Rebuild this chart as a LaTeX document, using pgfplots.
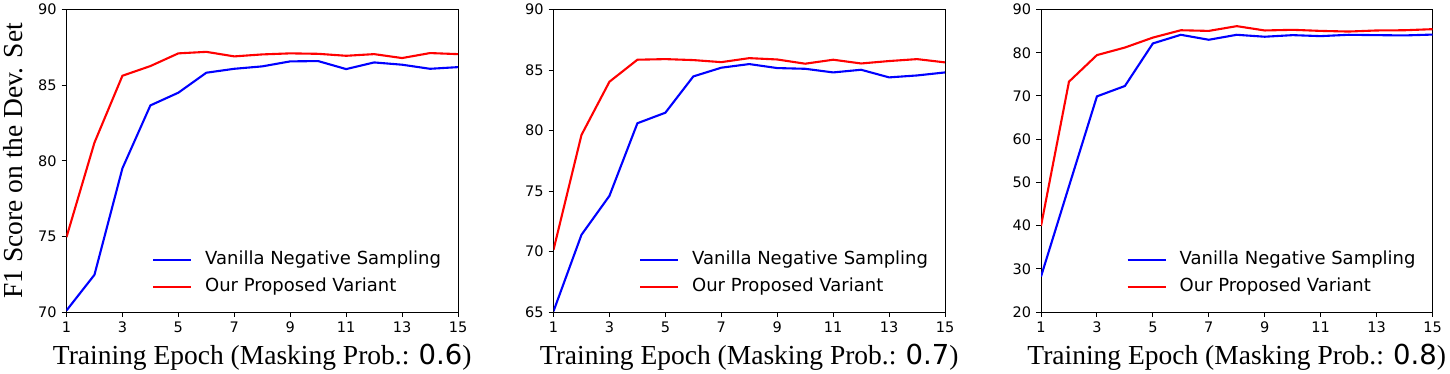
\documentclass[border=0pt]{standalone}
\usepackage{fontspec}
\setmainfont{DejaVu Sans}
\newfontfamily\tnr{Liberation Serif}
\usepackage{pgfplots}
\pgfplotsset{compat=1.18}

\pgfplotsset{
  panel/.style={
    scale only axis,
    width=391.5pt, height=302.5pt,
    xmin=1, xmax=15,
    xtick={1,3,...,15},
    tick pos=left,
    tick align=outside,
    major tick length=4.9pt,
    tick style={black, line width=1pt},
    axis line style={line width=1pt},
    /pgf/number format/assume math mode=true,
    ticklabel style={font=\fontsize{14.5}{17}\selectfont},
    xticklabel style={inner sep=0pt, anchor=north, yshift=-4.9pt},
    yticklabel style={inner sep=0pt, anchor=east, xshift=-4.9pt},
    label style={font=\tnr\fontsize{27.5}{32}\selectfont},
    xlabel style={at={(axis description cs:0.5,-0.175)}, anchor=base},
    legend style={
      draw=none, fill=none, inner sep=0pt,
      at={(axis description cs:0.218,0.054)}, anchor=south west,
      font=\fontsize{18}{22}\selectfont,
      legend cell align=left,
      nodes={inner sep=0pt, text height=13.5pt, text depth=4pt},
      row sep=9.5pt, column sep=13pt,
    },
    legend image code/.code={\draw[#1] (0pt,0pt) -- (38pt,0pt);},
    every axis plot/.append style={line width=2.1pt},
  }
}

\begin{document}
\begin{tikzpicture}
\path[use as bounding box] (0,0) rectangle (1450pt,373pt);

% masking prob 0.6
\begin{axis}[panel, at={(66.5pt,61pt)}, anchor=south west,
  ymin=70, ymax=90, ytick={70,75,...,90},
  xlabel={Training Epoch (Masking Prob.: {\rmfamily 0.6})},
  ylabel={F1 Score on the Dev. Set},
  ylabel style={at={(axis description cs:-0.1135,0.5)}, anchor=base},
]
\addplot[blue] coordinates {
  (1,70.1) (2,72.46) (3,79.5) (4,83.66) (5,84.5) (6,85.82) (7,86.08) (8,86.24)
  (9,86.57) (10,86.59) (11,86.06) (12,86.5) (13,86.35) (14,86.08) (15,86.19)
};
\addlegendentry{Vanilla Negative Sampling}
\addplot[red] coordinates {
  (1,74.95) (2,81.2) (3,85.62) (4,86.26) (5,87.1) (6,87.2) (7,86.9) (8,87.03)
  (9,87.1) (10,87.07) (11,86.94) (12,87.05) (13,86.79) (14,87.12) (15,87.05)
};
\addlegendentry{Our Proposed Variant}
\end{axis}

% masking prob 0.7
\begin{axis}[panel, at={(553.5pt,61pt)}, anchor=south west,
  ymin=65, ymax=90, ytick={65,70,...,90},
  xlabel={Training Epoch (Masking Prob.: {\rmfamily 0.7})},
]
\addplot[blue] coordinates {
  (1,65.06) (2,71.38) (3,74.6) (4,80.6) (5,81.47) (6,84.47) (7,85.19) (8,85.49)
  (9,85.16) (10,85.1) (11,84.8) (12,85.02) (13,84.39) (14,84.55) (15,84.8)
};
\addlegendentry{Vanilla Negative Sampling}
\addplot[red] coordinates {
  (1,70.14) (2,79.63) (3,84.03) (4,85.85) (5,85.9) (6,85.82) (7,85.65) (8,85.98)
  (9,85.87) (10,85.52) (11,85.85) (12,85.54) (13,85.74) (14,85.9) (15,85.63)
};
\addlegendentry{Our Proposed Variant}
\end{axis}

% masking prob 0.8
\begin{axis}[panel, at={(1041pt,61pt)}, anchor=south west,
  ymin=20, ymax=90, ytick={20,30,...,90},
  xlabel={Training Epoch (Masking Prob.: {\rmfamily 0.8})},
]
\addplot[blue] coordinates {
  (1,28.2) (2,49.1) (3,69.9) (4,72.3) (5,82.15) (6,84.15) (7,83.0) (8,84.15)
  (9,83.7) (10,84.07) (11,83.84) (12,84.15) (13,84.07) (14,84.0) (15,84.2)
};
\addlegendentry{Vanilla Negative Sampling}
\addplot[red] coordinates {
  (1,39.9) (2,73.3) (3,79.45) (4,81.2) (5,83.5) (6,85.2) (7,85.05) (8,86.15)
  (9,85.15) (10,85.3) (11,85.05) (12,84.9) (13,85.15) (14,85.2) (15,85.45)
};
\addlegendentry{Our Proposed Variant}
\end{axis}
\end{tikzpicture}
\end{document}
